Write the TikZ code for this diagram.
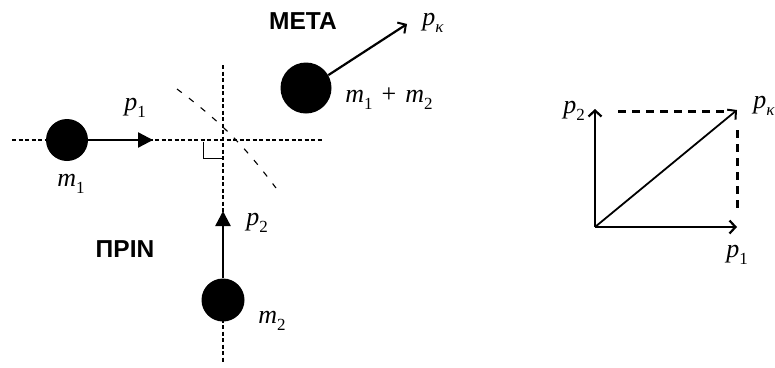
\documentclass[tikz,border=0pt]{standalone}
\usepackage{fontspec}
\newfontfamily\gkfont{Liberation Sans}
\newfontfamily\labfont{Liberation Serif}
\newcommand\lsub[2]{{\itshape #1}\raisebox{-0.28em}{\fontsize{17}{18}\selectfont #2}}
\usetikzlibrary{arrows.meta}
\begin{document}
\begin{tikzpicture}[x=1pt,y=-1pt,
  disc/.style={circle, fill=black, inner sep=0pt, minimum size=#1},
  guide/.style={line width=1.7pt, dash pattern=on 4pt off 2.5pt},
  arcguide/.style={line width=1.1pt, dash pattern=on 6pt off 9pt},
  momentum/.style={line width=2.4pt, -{Triangle[length=15pt,width=15pt]}},
  vecarrow/.style={line width=2.8pt, -{Straight Barb[length=6pt,width=13pt,line width=2.2pt]}},
  comp/.style={line width=3pt, dash pattern=on 8pt off 6pt},
  lbl/.style={inner sep=0pt, font=\labfont\fontsize{26}{30}\selectfont},
  title/.style={inner sep=0pt, font=\gkfont\bfseries\fontsize{24.5}{28}\selectfont}
]
\useasboundingbox (0,0) rectangle (775,367);

% guide lines
\coordinate (hL) at (12,140);
\coordinate (hR) at (323,140);
\coordinate (vT) at (223,65);
\coordinate (vB) at (223,362);
\draw[guide] (hL) -- (hR);
\draw[guide] (vT) -- (vB);
\coordinate (aS) at (177,89);
\coordinate (aE) at (276,188);
\draw[arcguide] (aS) to[bend left=8] (aE);
\coordinate (ra1) at (203,142);
\coordinate (ra2) at (203,158);
\coordinate (ra3) at (222,158);
\draw[line width=1pt] (ra1) -- (ra2) -- (ra3);

% masses
\node[disc=42pt] (m1) at (67,140) {};
\node[disc=43pt] (m2) at (223,300) {};
\node[disc=51pt] (m12) at (306,88) {};

% momenta before
\coordinate (p1tip) at (153,140);
\draw[momentum] (m1) -- (p1tip);
\coordinate (p2tip) at (223,211);
\draw[momentum] (m2) -- (p2tip);

% momentum after
\coordinate (pktip) at (407,24);
\draw[line width=2.2pt, -{Straight Barb[length=6pt,width=13pt,line width=2pt]}] (m12.30) -- (pktip);

% labels left
\node[lbl] (lp1) at (135,108) {\lsub{p}{1}};
\node[lbl] (lm1) at (71,184) {\lsub{m}{1}};
\node[lbl] (lp2) at (257,223) {\lsub{p}{2}};
\node[lbl] (lm2) at (272,321) {\lsub{m}{2}};
\node[lbl] (lpk) at (433,23) {\lsub{p}{\itshape κ}};
\node[lbl] (lm12) at (389,99) {\lsub{m}{1}\hspace{9pt}+\hspace{9pt}\lsub{m}{2}};
\node[title] (prin) at (125,249) {ΠΡΙΝ};
\node[title] (meta) at (303,21) {ΜΕΤΑ};

% right vector diagram
\coordinate (O) at (595,227);
\coordinate (P1) at (737,227);
\coordinate (P2) at (595,109);
\coordinate (PK) at (737,110);
\coordinate (dT1) at (618,111);
\coordinate (dT2) at (725,111);
\coordinate (dV1) at (737,130);
\coordinate (dV2) at (737,212);
\draw[comp] (dT1) -- (dT2);
\draw[comp] (dV1) -- (dV2);
\draw[vecarrow] (O) -- (P2);
\draw[vecarrow] (O) -- (P1);
\draw[line width=1.8pt, -{Straight Barb[length=6pt,width=13pt,line width=2pt]}] (O) -- (PK);
\node[lbl] (rp2) at (574,111) {\lsub{p}{2}};
\node[lbl] (rpk) at (764,106) {\lsub{p}{\itshape κ}};
\node[lbl] (rp1) at (737,255) {\lsub{p}{1}};
\end{tikzpicture}
\end{document}
